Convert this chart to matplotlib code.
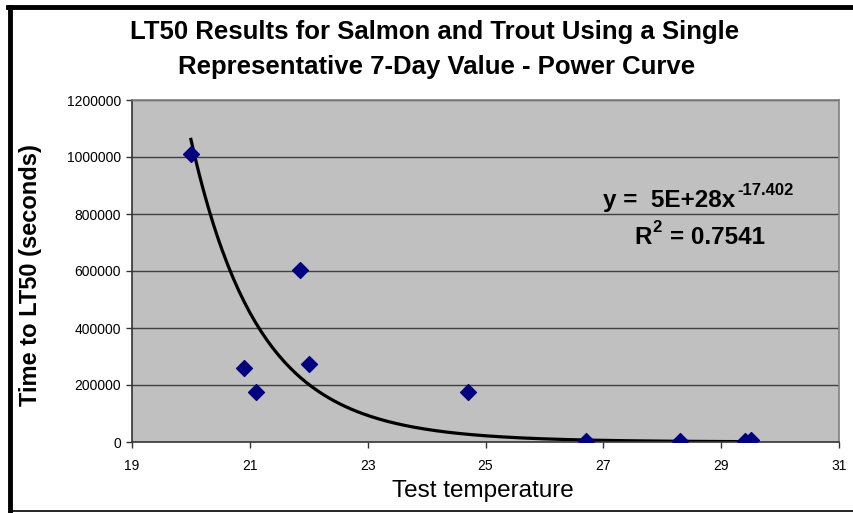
import numpy as np
import matplotlib
matplotlib.use("Agg")
import matplotlib.pyplot as plt
from matplotlib.lines import Line2D

plt.rcParams['font.family'] = ['Liberation Sans', 'DejaVu Sans']

# --- data ---
temps = [20.0, 20.9, 21.1, 21.85, 22.0, 24.7, 26.7, 28.3, 29.4, 29.5]
lt50 = [1010000, 260000, 175000, 605000, 275000, 175000, 2000, 2000, 2000, 8000]

# power trendline as shown on the chart (coefficient displayed rounded as 5E+28)
trend_coef = 4.64e28
trend_exp = -17.402
trend_x = np.linspace(min(temps), max(temps), 200)
trend_y = trend_coef * trend_x ** trend_exp

x_ticks = [19, 21, 23, 25, 27, 29, 31]
y_ticks = [0, 200000, 400000, 600000, 800000, 1000000, 1200000]

W, H = 854.0, 513.0


def px(x, y):
    # pixel position (from top-left) -> figure fraction
    return x / W, 1 - y / H


# --- plot ---
fig = plt.figure(figsize=(8.54, 5.13), dpi=100)
ax = fig.add_axes([132 / W, 1 - 442 / H, 707 / W, 342 / H])
ax.set_facecolor("#c0c0c0")

for yv in y_ticks[1:]:
    ax.axhline(yv, color="#404040", lw=1.0, zorder=1)

ax.plot(trend_x, trend_y, color="black", lw=2.3, zorder=2)
ax.scatter(temps, lt50, marker="D", s=65, color="#000080", zorder=3)

ax.set_xlim(19, 31)
ax.set_ylim(0, 1200000)
ax.set_xticks(x_ticks)
ax.set_yticks(y_ticks)
ax.set_xticklabels([str(v) for v in x_ticks])
ax.set_yticklabels([str(v) for v in y_ticks])
ax.tick_params(axis="both", direction="out", length=4, width=1, labelsize=10,
               labelcolor="black", color="#333333")
ax.tick_params(axis="x", pad=8)
ax.tick_params(axis="y", pad=4)

for side in ["top", "right"]:
    ax.spines[side].set_color("#808080")
    ax.spines[side].set_linewidth(1.2)
for side in ["left", "bottom"]:
    ax.spines[side].set_color("#333333")
    ax.spines[side].set_linewidth(1.2)

# axis titles
fig.text(*px(483, 497), "Test temperature", ha="center", va="baseline", fontsize=17.5)
fig.text(*px(31, 275), "Time to LT50 (seconds)", ha="center", va="center",
         rotation=90, fontsize=17, fontweight="bold")

# chart title
fig.text(*px(435, 39), "LT50 Results for Salmon and Trout Using a Single",
         ha="center", va="baseline", fontsize=18.5, fontweight="bold")
fig.text(*px(437, 74), "Representative 7-Day Value - Power Curve",
         ha="center", va="baseline", fontsize=18.5, fontweight="bold")

# trendline equation, superscripts placed right after the base text
renderer = fig.canvas.get_renderer()
eq = fig.text(*px(603, 207), "y =  5E+28x", ha="left", va="baseline",
              fontsize=17.5, fontweight="bold")
x_end = eq.get_window_extent(renderer).x1
fig.text((x_end + 2) / W, 1 - 195 / H, "-17.402", ha="left", va="baseline",
         fontsize=12, fontweight="bold")

r = fig.text(*px(634, 244), "R", ha="left", va="baseline", fontsize=17.5, fontweight="bold")
r_end = r.get_window_extent(renderer).x1
sup = fig.text((r_end + 1) / W, 1 - 232 / H, "2", ha="left", va="baseline",
               fontsize=12, fontweight="bold")
sup_end = sup.get_window_extent(renderer).x1
fig.text((sup_end + 8) / W, 1 - 244 / H, "= 0.7541", ha="left", va="baseline",
         fontsize=17.5, fontweight="bold")

# frame around the chart (thick top/left, thin bottom)
fig.add_artist(Line2D([10 / W, 10 / W], [1 - 7 / H, 0], color="black", lw=3.5))
fig.add_artist(Line2D([8 / W, 1], [1 - 7 / H, 1 - 7 / H], color="black", lw=3.5))
fig.add_artist(Line2D([10 / W, 1], [2 / H, 2 / H], color="black", lw=1.2))

fig.savefig("out.png", dpi=100)
